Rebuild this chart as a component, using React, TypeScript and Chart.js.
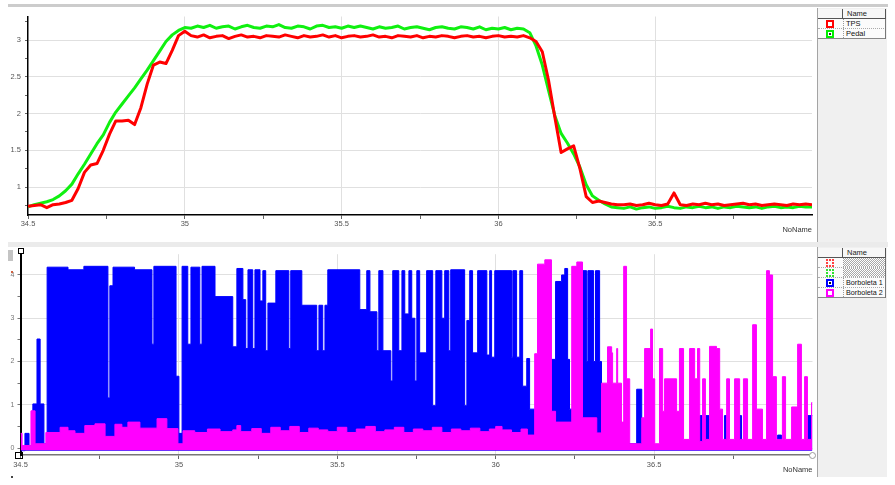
import React, { useEffect, useRef } from "react";
import { Chart, registerables } from "chart.js";

Chart.register(...registerables);

// ---------- Top chart: TPS / Pedal (sampled every 0.02 s) ----------
const TOP_TIME = [
  34.50, 34.52, 34.54, 34.56, 34.58, 34.60, 34.62, 34.64, 34.66, 34.68,
  34.70, 34.72, 34.74, 34.76, 34.78, 34.80, 34.82, 34.84, 34.86, 34.88,
  34.90, 34.92, 34.94, 34.96, 34.98, 35.00, 35.02, 35.04, 35.06, 35.08,
  35.10, 35.12, 35.14, 35.16, 35.18, 35.20, 35.22, 35.24, 35.26, 35.28,
  35.30, 35.32, 35.34, 35.36, 35.38, 35.40, 35.42, 35.44, 35.46, 35.48,
  35.50, 35.52, 35.54, 35.56, 35.58, 35.60, 35.62, 35.64, 35.66, 35.68,
  35.70, 35.72, 35.74, 35.76, 35.78, 35.80, 35.82, 35.84, 35.86, 35.88,
  35.90, 35.92, 35.94, 35.96, 35.98, 36.00, 36.02, 36.04, 36.06, 36.08,
  36.10, 36.12, 36.14, 36.16, 36.18, 36.20, 36.22, 36.24, 36.26, 36.28,
  36.30, 36.32, 36.34, 36.36, 36.38, 36.40, 36.42, 36.44, 36.46, 36.48,
  36.50, 36.52, 36.54, 36.56, 36.58, 36.60, 36.62, 36.64, 36.66, 36.68,
  36.70, 36.72, 36.74, 36.76, 36.78, 36.80, 36.82, 36.84, 36.86, 36.88,
  36.90, 36.92, 36.94, 36.96, 36.98, 37.00,
];

const TPS = [
  0.74, 0.75, 0.76, 0.72, 0.76, 0.77, 0.79, 0.82, 0.98, 1.20,
  1.30, 1.32, 1.50, 1.72, 1.90, 1.90, 1.91, 1.85, 2.08, 2.40,
  2.66, 2.70, 2.68, 2.86, 3.06, 3.12, 3.06, 3.04, 3.07, 3.03,
  3.05, 3.06, 3.02, 3.05, 3.07, 3.04, 3.05, 3.03, 3.06, 3.05,
  3.04, 3.07, 3.05, 3.03, 3.06, 3.04, 3.05, 3.07, 3.04, 3.06,
  3.03, 3.05, 3.06, 3.04, 3.05, 3.07, 3.04, 3.05, 3.03, 3.06,
  3.05, 3.04, 3.06, 3.03, 3.05, 3.04, 3.06, 3.05, 3.03, 3.05,
  3.06, 3.04, 3.05, 3.03, 3.05, 3.06, 3.04, 3.05, 3.04, 3.06,
  3.03, 2.98, 2.84, 2.45, 1.95, 1.47, 1.52, 1.56, 1.25, 0.87,
  0.79, 0.81, 0.79, 0.77, 0.76, 0.76, 0.77, 0.75, 0.76, 0.78,
  0.76, 0.75, 0.77, 0.92, 0.76, 0.75, 0.77, 0.76, 0.78, 0.76,
  0.77, 0.75, 0.76, 0.77, 0.78, 0.76, 0.77, 0.75, 0.76, 0.77,
  0.76, 0.75, 0.77, 0.76, 0.77, 0.76,
];

const PEDAL = [
  0.73, 0.76, 0.78, 0.80, 0.83, 0.88, 0.95, 1.04, 1.18, 1.31,
  1.45, 1.59, 1.71, 1.88, 2.02, 2.13, 2.24, 2.35, 2.47, 2.59,
  2.72, 2.85, 2.98, 3.07, 3.13, 3.17, 3.16, 3.19, 3.17, 3.20,
  3.16, 3.18, 3.19, 3.15, 3.18, 3.20, 3.17, 3.16, 3.19, 3.18,
  3.21, 3.17, 3.16, 3.19, 3.18, 3.15, 3.19, 3.20, 3.17, 3.18,
  3.16, 3.19, 3.17, 3.19, 3.17, 3.15, 3.18, 3.16, 3.17, 3.19,
  3.15, 3.17, 3.18, 3.16, 3.14, 3.17, 3.18, 3.16, 3.15, 3.18,
  3.17, 3.15, 3.18, 3.14, 3.16, 3.15, 3.17, 3.14, 3.16, 3.15,
  3.10, 2.92, 2.66, 2.31, 1.97, 1.73, 1.60, 1.45, 1.27, 1.03,
  0.88, 0.82, 0.77, 0.73, 0.72, 0.71, 0.73, 0.70, 0.72, 0.73,
  0.71, 0.72, 0.74, 0.72, 0.71, 0.73, 0.72, 0.74, 0.72, 0.73,
  0.71, 0.73, 0.72, 0.74, 0.73, 0.72, 0.73, 0.71, 0.73, 0.74,
  0.72, 0.73, 0.72, 0.74, 0.73, 0.73,
];

// ---------- Bottom chart: Borboleta 1 / 2 (upper envelope, [time, volts], value holds until next time) ----------
const BORBOLETA1: [number, number][] = [
  [34.500, -0.06], [34.514, 0.34], [34.527, 0.05], [34.539, 1.02], [34.552, 2.52], [34.562, 1.02],
  [34.574, 0.10], [34.584, 4.18], [34.650, 4.12], [34.700, 4.20], [34.776, 1.16], [34.782, 3.75],
  [34.792, 4.18], [34.860, 4.12], [34.915, 2.40], [34.921, 4.20], [34.991, 1.66], [35.000, 0.34],
  [35.010, 4.20], [35.028, 2.40], [35.038, 4.18], [35.066, 2.40], [35.073, 4.20], [35.114, 3.50],
  [35.170, 2.34], [35.183, 4.15], [35.202, 3.43], [35.211, 2.30], [35.218, 4.12], [35.233, 2.30],
  [35.240, 4.12], [35.256, 3.40], [35.265, 4.10], [35.274, 2.25], [35.281, 3.35], [35.306, 4.10],
  [35.347, 2.30], [35.353, 4.10], [35.388, 3.30], [35.435, 2.25], [35.442, 3.30], [35.454, 2.25],
  [35.461, 3.30], [35.470, 4.12], [35.571, 3.20], [35.593, 4.10], [35.603, 3.15], [35.625, 2.25],
  [35.631, 4.10], [35.644, 2.25], [35.669, 1.55], [35.675, 4.10], [35.694, 2.25], [35.704, 4.10],
  [35.713, 3.10], [35.726, 4.10], [35.735, 3.00], [35.745, 1.55], [35.751, 4.10], [35.760, 2.20],
  [35.782, 4.10], [35.801, 0.98], [35.811, 4.10], [35.830, 3.00], [35.839, 4.10], [35.852, 2.25],
  [35.858, 4.12], [35.902, 0.98], [35.909, 2.95], [35.918, 4.10], [35.927, 2.20], [35.943, 4.10],
  [35.972, 2.15], [35.981, 4.10], [35.987, 2.10], [35.997, 4.10], [36.050, 2.10], [36.054, 4.10],
  [36.066, 2.10], [36.076, 4.10], [36.085, 1.43], [36.098, 2.07], [36.107, 0.90], [36.123, 0.80],
  [36.132, 0.50], [36.176, 2.05], [36.189, 3.85], [36.208, 4.00], [36.218, 4.15], [36.227, 2.05],
  [36.233, 0.90], [36.274, 4.10], [36.287, 2.00], [36.291, 4.10], [36.309, 2.00], [36.315, 4.10],
  [36.328, 2.00], [36.334, 0.60], [36.353, 0.10], [36.445, 1.36], [36.461, 0.05], [36.644, 0.75],
  [36.675, 0.05], [36.722, 0.75], [36.732, 0.05], [36.770, 0.75], [36.776, 0.05], [36.890, 0.30],
  [36.902, 0.05], [36.984, 0.75], [37.000, 0.75],
];

const BORBOLETA2: [number, number][] = [
  [34.500, 0.34], [34.505, 0.06], [34.533, 0.86], [34.546, 0.10], [34.580, 0.36], [34.625, 0.48],
  [34.650, 0.40], [34.672, 0.34], [34.703, 0.52], [34.735, 0.56], [34.767, 0.27], [34.798, 0.55],
  [34.820, 0.48], [34.839, 0.60], [34.877, 0.46], [34.931, 0.68], [34.962, 0.45], [34.997, 0.10],
  [35.013, 0.40], [35.050, 0.36], [35.090, 0.44], [35.130, 0.38], [35.170, 0.42], [35.183, 0.52],
  [35.195, 0.38], [35.230, 0.45], [35.260, 0.34], [35.290, 0.48], [35.320, 0.40], [35.350, 0.50],
  [35.380, 0.36], [35.410, 0.46], [35.440, 0.42], [35.470, 0.38], [35.500, 0.48], [35.530, 0.36],
  [35.560, 0.44], [35.590, 0.50], [35.620, 0.38], [35.650, 0.42], [35.680, 0.48], [35.710, 0.36],
  [35.740, 0.44], [35.770, 0.40], [35.800, 0.48], [35.830, 0.36], [35.860, 0.44], [35.890, 0.40],
  [35.920, 0.46], [35.950, 0.38], [35.980, 0.44], [36.000, 0.50], [36.020, 0.42], [36.050, 0.36],
  [36.080, 0.44], [36.100, 0.30], [36.123, 2.18], [36.132, 4.25], [36.155, 4.35], [36.176, 0.85],
  [36.189, 0.60], [36.240, 4.20], [36.256, 4.30], [36.274, 0.70], [36.319, 0.35], [36.334, 1.50],
  [36.353, 2.34], [36.366, 2.20], [36.369, 1.50], [36.382, 2.30], [36.385, 1.50], [36.397, 0.60],
  [36.404, 4.20], [36.413, 1.60], [36.423, 0.10], [36.461, 0.70], [36.470, 2.30], [36.489, 2.75],
  [36.495, 1.60], [36.502, 0.10], [36.517, 2.30], [36.527, 0.85], [36.533, 1.60], [36.571, 0.85],
  [36.580, 2.30], [36.593, 0.20], [36.612, 2.30], [36.628, 1.60], [36.637, 2.30], [36.644, 0.15],
  [36.653, 1.60], [36.662, 0.20], [36.675, 2.35], [36.697, 2.30], [36.707, 0.90], [36.716, 0.20],
  [36.729, 1.60], [36.738, 0.20], [36.754, 1.60], [36.770, 0.20], [36.782, 1.60], [36.795, 0.20],
  [36.811, 2.85], [36.823, 0.90], [36.842, 0.20], [36.855, 4.10], [36.864, 4.00], [36.874, 1.65],
  [36.886, 0.20], [36.905, 1.65], [36.915, 0.20], [36.934, 0.95], [36.953, 2.40], [36.965, 0.20],
  [36.975, 1.65], [36.984, 0.20], [36.997, 1.05], [37.000, 1.05],
];

const X_MIN = 34.5;
const X_MAX = 37.0;
const TOP_Y_MIN = 0.62;
const TOP_Y_MAX = 3.32;
const BOT_Y_MIN = -0.16;
const BOT_Y_MAX = 4.48;
const AXIS_TITLE = "NoName";

const FONT = '"Liberation Sans", Arial, Helvetica, sans-serif';
const isHalf = (v: number) => Math.abs(v * 2 - Math.round(v * 2)) < 1e-6;
const isWhole = (v: number) => Math.abs(v - Math.round(v)) < 1e-6;
const fmt = (v: number) => String(Math.round(v * 100) / 100);
const GRID = "#e0e0e0";
const CLEAR = "rgba(0,0,0,0)";

function xScale(axisColor: string, titlePadBottom: number, height: number, labelPad: number) {
  return {
    type: "linear" as const,
    min: X_MIN,
    max: X_MAX,
    ticks: {
      stepSize: 0.25,
      maxTicksLimit: 1000,
      autoSkip: false,
      includeBounds: false,
      maxRotation: 0,
      padding: labelPad,
      color: "#555",
      font: { family: FONT, size: 7.5 },
      callback: (v: any) => (isHalf(Number(v)) && Number(v) < X_MAX - 0.01 ? fmt(Number(v)) : ""),
    },
    grid: {
      color: (ctx: any) => {
        const v = ctx.tick ? ctx.tick.value : NaN;
        return isHalf(v) && v > X_MIN + 0.01 && v < X_MAX - 0.01 ? GRID : CLEAR;
      },
      tickColor: (ctx: any) => {
        const v = ctx.tick ? ctx.tick.value : NaN;
        return v < X_MAX - 0.01 ? "#666" : CLEAR;
      },
      tickLength: 4,
      drawTicks: true,
    },
    border: { color: axisColor, width: 1.5 },
    title: {
      display: true,
      text: AXIS_TITLE,
      align: "end" as const,
      color: "#333",
      font: { family: FONT, size: 7.5 },
      padding: { top: 0, bottom: titlePadBottom },
    },
    afterFit: (s: any) => {
      s.height = height;
    },
  };
}

function TopChart() {
  const ref = useRef<HTMLCanvasElement>(null);
  useEffect(() => {
    const chart = new Chart(ref.current!, {
      type: "line",
      data: {
        datasets: [
          {
            label: "TPS",
            data: TOP_TIME.map((t, i) => ({ x: t, y: TPS[i] })),
            borderColor: "#ff0000",
            borderWidth: 3,
            pointRadius: 0,
            tension: 0,
            borderJoinStyle: "round",
          },
          {
            label: "Pedal",
            data: TOP_TIME.map((t, i) => ({ x: t, y: PEDAL[i] })),
            borderColor: "#10f010",
            borderWidth: 3,
            pointRadius: 0,
            tension: 0,
            borderJoinStyle: "round",
          },
        ],
      },
      options: {
        animation: false,
        responsive: true,
        maintainAspectRatio: false,
        events: [],
        layout: { padding: { top: 7, right: 5, left: 0, bottom: 0 } },
        plugins: { legend: { display: false }, tooltip: { enabled: false } },
        scales: {
          x: xScale("#000", 8, 27, 0) as any,
          y: {
            type: "linear",
            min: TOP_Y_MIN,
            max: TOP_Y_MAX,
            ticks: {
              stepSize: 0.25,
              maxTicksLimit: 1000,
              includeBounds: false,
              padding: 4,
              color: "#555",
              font: { family: FONT, size: 7.5 },
              callback: (v: any) => (isHalf(Number(v)) && Number(v) >= 1 ? fmt(Number(v)) : ""),
            },
            grid: {
              color: (ctx: any) => (ctx.tick && isHalf(ctx.tick.value) && ctx.tick.value >= 1 ? GRID : CLEAR),
              tickColor: "#666",
              tickLength: 3,
            },
            border: { color: "#000", width: 1.5 },
            afterFit: (s: any) => {
              s.width = 28;
            },
          } as any,
        },
      },
    });
    return () => chart.destroy();
  }, []);
  return (
    <div style={{ position: "absolute", left: 0, top: 8, width: 817, height: 234 }}>
      <canvas ref={ref} />
    </div>
  );
}

function BottomChart() {
  const ref = useRef<HTMLCanvasElement>(null);
  useEffect(() => {
    const chart = new Chart(ref.current!, {
      type: "line",
      data: {
        datasets: [
          {
            label: "Borboleta 2",
            data: BORBOLETA2.map(([t, v]) => ({ x: t, y: v })),
            borderColor: "#ff00ff",
            backgroundColor: "#ff00ff",
            borderWidth: 1,
            pointRadius: 0,
            stepped: true,
            fill: { value: -0.05 },
            order: 0,
          },
          {
            label: "Borboleta 1",
            data: BORBOLETA1.map(([t, v]) => ({ x: t, y: v })),
            borderColor: "#0000ff",
            backgroundColor: "#0000ff",
            borderWidth: 1,
            pointRadius: 0,
            stepped: true,
            fill: { value: -0.06 },
            order: 1,
          },
        ],
      },
      options: {
        animation: false,
        responsive: true,
        maintainAspectRatio: false,
        events: [],
        layout: { padding: { top: 4, right: 4.5, left: 0, bottom: 0 } },
        plugins: { legend: { display: false }, tooltip: { enabled: false } },
        scales: {
          x: xScale("#777", 3, 22, 1) as any,
          y: {
            type: "linear",
            min: BOT_Y_MIN,
            max: BOT_Y_MAX,
            ticks: {
              stepSize: 0.5,
              maxTicksLimit: 1000,
              includeBounds: false,
              padding: 3,
              color: "#777",
              font: { family: FONT, size: 7 },
              callback: (v: any) => (isWhole(Number(v)) ? fmt(Number(v)) : ""),
            },
            grid: {
              color: (ctx: any) => (ctx.tick && isWhole(ctx.tick.value) ? GRID : CLEAR),
              tickColor: "#777",
              tickLength: 3,
            },
            border: { color: "#000", width: 2 },
            afterFit: (s: any) => {
              s.width = 20.5;
            },
          } as any,
        },
      },
    });
    return () => chart.destroy();
  }, []);
  return (
    <div style={{ position: "absolute", left: 0, top: 247, width: 817, height: 230 }}>
      <canvas ref={ref} />
    </div>
  );
}

type LegendRow = {
  name: string;
  color: string;
  style: "solid" | "dotted";
  center: string;
  hatched?: boolean;
};

const TOP_LEGEND: LegendRow[] = [
  { name: "TPS", color: "#ff0000", style: "solid", center: "#ffffff" },
  { name: "Pedal", color: "#00ee00", style: "solid", center: "#333333" },
];

const BOTTOM_LEGEND: LegendRow[] = [
  { name: "", color: "#ff4040", style: "dotted", center: "#f4f4f4", hatched: true },
  { name: "", color: "#30e030", style: "dotted", center: "#f4f4f4", hatched: true },
  { name: "Borboleta 1", color: "#0000ff", style: "solid", center: "#111111" },
  { name: "Borboleta 2", color: "#ff00ff", style: "solid", center: "#ffffff" },
];

function LegendPanel({ top, height, rows, fontSize }: { top: number; height: number; rows: LegendRow[]; fontSize: number }) {
  const headerH = 10;
  const rowH = 10;
  return (
    <div
      style={{
        position: "absolute",
        left: 817,
        top,
        width: 70,
        height,
        background: "#f0f0f0",
        borderLeft: "1px solid #a4a4a4",
        boxSizing: "border-box",
        fontFamily: FONT,
      }}
    >
      <div
        style={{
          position: "absolute",
          left: 0,
          top: 1,
          width: 68,
          height: headerH,
          background: "#f7f7f7",
          borderBottom: "1px solid #555",
          boxSizing: "border-box",
        }}
      >
        <div style={{ position: "absolute", left: 24, top: 0, width: 1, height: headerH - 1, background: "#555" }} />
        <div style={{ position: "absolute", left: 67, top: 0, width: 1, height: headerH - 1, background: "#555" }} />
        <div style={{ position: "absolute", left: 29, top: 0, fontSize: 7.5, lineHeight: "9px", color: "#222" }}>Name</div>
      </div>
      {rows.map((r, i) => (
        <div
          key={i}
          style={{
            position: "absolute",
            left: 0,
            top: 1 + headerH + i * rowH,
            width: 68,
            height: rowH,
            borderBottom: i === rows.length - 1 ? "1px solid #888" : "1px dotted #aaa",
            boxSizing: "border-box",
            background: "#fbfbfb",
          }}
        >
          <div
            style={{
              position: "absolute",
              left: 8,
              top: 1,
              width: 8,
              height: 8,
              boxSizing: "border-box",
              border: `2px ${r.style} ${r.color}`,
              background: r.style === "dotted" ? "transparent" : "#fff",
            }}
          >
            {r.style === "solid" && (
              <div style={{ position: "absolute", left: 1, top: 1, width: 2, height: 2, background: r.center }} />
            )}
          </div>
          <div
            style={{
              position: "absolute",
              left: 25,
              top: 0,
              width: 42,
              height: rowH - 1,
              borderLeft: "1px dotted #999",
              background: r.hatched ? "repeating-conic-gradient(#a8a8a8 0% 25%, #ffffff 0% 50%) 0 0 / 2px 2px" : "transparent",
            }}
          />
          <div style={{ position: "absolute", left: 28, top: 0, fontSize, lineHeight: "9px", color: "#111", whiteSpace: "nowrap" }}>
            {r.name}
          </div>
          <div style={{ position: "absolute", left: 67, top: 0, width: 1, height: rowH, background: "#777" }} />
        </div>
      ))}
    </div>
  );
}

export default function App() {
  useEffect(() => {
    document.body.style.margin = "0";
  }, []);
  return (
    <div style={{ position: "relative", width: 895, height: 485, background: "#fff", overflow: "hidden", fontFamily: FONT }}>
      <div style={{ position: "absolute", left: 8, top: 4, width: 880, height: 3, background: "#cccccc" }} />
      <TopChart />
      <LegendPanel top={8} height={234} rows={TOP_LEGEND} fontSize={7.5} />
      <div style={{ position: "absolute", left: 8, top: 242, width: 880, height: 5, background: "#ebebeb" }} />
      <BottomChart />
      <LegendPanel top={247} height={230} rows={BOTTOM_LEGEND} fontSize={7.2} />
      {/* small axis handles and side widgets */}
      <div style={{ position: "absolute", left: 8, top: 250, width: 5, height: 11, background: "#c4c4c4" }} />
      <div style={{ position: "absolute", left: 11, top: 271, width: 2, height: 2, background: "#d06040" }} />
      <div style={{ position: "absolute", left: 18, top: 248, width: 4, height: 4, border: "1px solid #000", background: "#fff" }} />
      <div style={{ position: "absolute", left: 15, top: 452, width: 6, height: 5, border: "1px solid #000" }} />
      <div style={{ position: "absolute", left: 809, top: 452, width: 5, height: 5, border: "1px solid #999", borderRadius: "50%", background: "#fff" }} />
      <div style={{ position: "absolute", left: 11, top: 476, width: 2, height: 2, background: "#444" }} />
    </div>
  );
}
